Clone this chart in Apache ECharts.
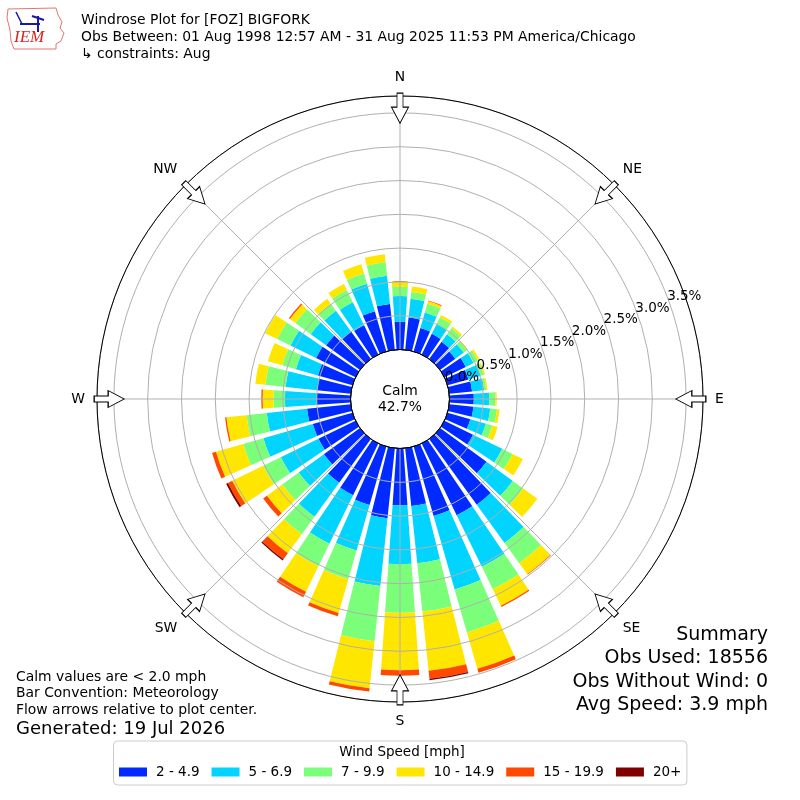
<!DOCTYPE html>
<html><head><meta charset="utf-8">
<script src="https://cdn.jsdelivr.net/npm/echarts@6/dist/echarts.min.js"></script>
<style>html,body{margin:0;padding:0;background:#fff}#c{width:800px;height:800px}</style>
</head><body><div id="c"></div>
<script>
// ---------------- data ----------------
const DIRECTIONS = [0,10,20,30,40,50,60,70,80,90,100,110,120,130,140,150,160,170,180,190,200,210,220,230,240,250,260,270,280,290,300,310,320,330,340,350];
const SPEED_BINS = ['2 - 4.9','5 - 6.9','7 - 9.9','10 - 14.9','15 - 19.9','20+'];
// percent of observations per direction (stacked)
const PCT_2_5   = [0.41,0.48,0.36,0.34,0.315,0.28,0.35,0.32,0.34,0.36, 0.36,0.35,0.47,0.85,1.20,1.18,1.07,0.86,0.84,1.04, 0.90,0.85,0.80,0.66,0.61,0.61,0.65,0.50,0.50,0.53, 0.65,0.62,0.50,0.48,0.62,0.68];
const PCT_5_7   = [0.38,0.28,0.24,0.16,0.135,0.155,0.13,0.19,0.18,0.23, 0.25,0.24,0.48,0.48,0.70,0.85,1.13,0.85,0.87,1.01, 0.70,0.80,0.62,0.46,0.62,0.76,0.60,0.47,0.47,0.34, 0.42,0.28,0.38,0.38,0.42,0.42];
const PCT_7_10  = [0.14,0.10,0.135,0.11,0.11,0.055,0.07,0.05,0.03,0.09, 0.10,0.10,0.17,0.19,0.37,0.37,0.66,0.72,0.72,0.82, 0.44,0.37,0.32,0.30,0.29,0.31,0.30,0.17,0.30,0.21, 0.22,0.28,0.13,0.20,0.16,0.20];
const PCT_10_15 = [0.08,0.08,0.04,0.04,0.03,0.02,0.03,0.02,0.02,0.02, 0.04,0.08,0.17,0.26,0.20,0.27,0.56,0.88,0.85,0.70, 0.52,0.42,0.35,0.28,0.51,0.42,0.30,0.16,0.15,0.22, 0.20,0.10,0.09,0.10,0.14,0.12];
const PCT_15_20 = [0,0,0.01,0,0,0,0,0,0,0, 0,0,0,0,0.01,0.02,0.06,0.12,0.08,0.05, 0.05,0.09,0.11,0.07,0.07,0.06,0.02,0.02,0,0, 0,0.02,0,0,0,0];
const PCT_20P   = [0,0,0,0,0,0,0,0,0,0, 0,0,0,0,0,0,0,0.02,0,0, 0,0,0.02,0,0.03,0,0,0,0,0, 0,0,0,0,0,0];
const COMPASS_LABELS = ['N','NE','E','SE','S','SW','W','NW'];
const COMPASS_ANGLES = [0,45,90,135,180,225,270,315];
const CALM_PCT = 42.7;
const TITLE_LINES = ['Windrose Plot for [FOZ] BIGFORK','Obs Between: 01 Aug 1998 12:57 AM - 31 Aug 2025 11:53 PM America/Chicago','\u21b3 constraints: Aug'];
const NOTE_LINES = ['Calm values are < 2.0 mph','Bar Convention: Meteorology','Flow arrows relative to plot center.'];
const GENERATED = 'Generated: 19 Jul 2026';
const SUMMARY_LINES = ['Summary','Obs Used: 18556','Obs Without Wind: 0','Avg Speed: 3.9 mph'];

// ---------------- styles / layout ----------------
const COLORS = ['#002aff','#00d4ff','#7bff7b','#ffe600','#ff4800','#800000'];
const CENTER = [400, 399];
const R_IN = 49.5, R_OUT = 303;
const R_MAX = 3.75;
const ARROW_R = 3.57;
const GRID = '#b0b0b0';
const FONT = 'DejaVu Sans';
const ARROW_PATH = 'path://M5.5,0 L11.5,0 L11.5,14 L17,14 L8.5,30 L0,14 L5.5,14 Z';

const chart = echarts.init(document.getElementById('c'), null, {renderer: 'canvas'});
const seriesData = [PCT_2_5, PCT_5_7, PCT_7_10, PCT_10_15, PCT_15_20, PCT_20P];

function txt(text, x, y, size, align, extra) {
  return Object.assign({
    type: 'text', z: 20,
    style: {text: text, x: x, y: y, fill: '#000', font: size + 'px "' + FONT + '"',
      textAlign: align, align: align, textVerticalAlign: 'middle', verticalAlign: 'middle'}
  }, extra || {});
}

const graphics = [];
TITLE_LINES.forEach((t, i) => graphics.push(txt(t, 81, 20 + i * 17, 13.9, 'left')));
graphics.push(txt('Calm', 400, 391, 13.9, 'center'));
graphics.push(txt(CALM_PCT.toFixed(1) + '%', 400, 407, 13.9, 'center'));
NOTE_LINES.forEach((t, i) => graphics.push(txt(t, 16, 677 + i * 16.7, 13.9, 'left')));
graphics.push(txt(GENERATED, 16, 729, 18, 'left'));
SUMMARY_LINES.forEach((t, i) => graphics.push(txt(t, 768, 635 + i * 23.5, 19, 'right')));
graphics.push(txt('Wind Speed [mph]', 402, 752, 13.5, 'center', {z: 30}));
// logo
graphics.push({type: 'polygon', z: 20, shape: {points: [[8,9],[56,8],[58,15],[62,22],[60,28],[64,33],[61,41],[56,44],[56,49],[14,49],[11,41],[10,30],[7,18]]},
  style: {fill: 'none', stroke: '#e57373', lineWidth: 1}});
graphics.push({type: 'polyline', z: 20, shape: {points: [[20,24],[40,24]]}, style: {stroke: '#1a1aa0', lineWidth: 2}});
graphics.push({type: 'polyline', z: 20, shape: {points: [[38,16],[38,32]]}, style: {stroke: '#1a1aa0', lineWidth: 2}});
graphics.push({type: 'polyline', z: 20, shape: {points: [[16,12],[22,24]]}, style: {stroke: '#1a1aa0', lineWidth: 1.5}});
graphics.push({type: 'polyline', z: 20, shape: {points: [[32,16],[44,20]]}, style: {stroke: '#1a1aa0', lineWidth: 2}});
graphics.push({type: 'text', z: 20, style: {text: 'IEM', x: 14, y: 38, fill: '#d22', font: 'italic 17px "Liberation Serif"',
  textAlign: 'left', align: 'left', textVerticalAlign: 'middle', verticalAlign: 'middle'}});

function radiusLabelAxis(polarIndex, parity) {
  return {polarIndex: polarIndex, type: 'value', min: 0, max: R_MAX, interval: 0.5, z: 10,
    axisLine: {show: false}, axisTick: {show: false}, splitLine: {show: false},
    axisLabel: {show: true, margin: 5, align: 'left', verticalAlign: 'middle', fontSize: 13.5, color: '#000', fontFamily: FONT,
      hideOverlap: false, showMinLabel: true, showMaxLabel: false,
      formatter: v => (Math.round(v * 2) % 2 === parity && v <= 3.5) ? v.toFixed(1) + '%' : ''}};
}

const option = {
  animation: false,
  backgroundColor: '#fff',
  textStyle: {fontFamily: FONT},
  graphic: graphics,
  polar: [
    {center: CENTER, radius: [R_IN, R_OUT]},
    {center: CENTER, radius: [R_IN, R_OUT]},
    {center: CENTER, radius: [R_IN, R_OUT]},
    {center: CENTER, radius: [0, R_IN]},
    {center: CENTER, radius: [R_IN, R_OUT]}
  ],
  angleAxis: [
    {polarIndex: 0, type: 'category', data: DIRECTIONS.map(String), startAngle: 95, clockwise: true, boundaryGap: true,
      axisLine: {show: false}, axisTick: {show: false}, axisLabel: {show: false}, splitLine: {show: false}},
    {polarIndex: 1, type: 'value', min: 0, max: 360, interval: 45, startAngle: 90, clockwise: true, z: 5,
      axisLine: {show: true, lineStyle: {color: '#000', width: 1}}, axisTick: {show: false},
      axisLabel: {show: true, margin: 12, fontSize: 13.9, color: '#000', fontFamily: FONT,
        formatter: v => { const i = COMPASS_ANGLES.indexOf(v); return i >= 0 ? COMPASS_LABELS[i] : ''; }},
      splitLine: {show: true, lineStyle: {color: GRID, width: 1}}},
    {polarIndex: 2, type: 'value', min: 0, max: 360, startAngle: 20, clockwise: true, show: false},
    {polarIndex: 3, type: 'value', min: 0, max: 360, z: 6,
      axisLine: {show: true, lineStyle: {color: '#000', width: 1}}, axisTick: {show: false}, axisLabel: {show: false}, splitLine: {show: false}},
    {polarIndex: 4, type: 'value', min: 0, max: 360, startAngle: 20, clockwise: true, show: false}
  ],
  radiusAxis: [
    {polarIndex: 0, type: 'value', min: 0, max: R_MAX, show: false},
    {polarIndex: 1, type: 'value', min: 0, max: R_MAX, interval: 0.5, z: 5,
      axisLine: {show: false}, axisTick: {show: false}, axisLabel: {show: false},
      splitLine: {show: true, lineStyle: {color: GRID, width: 1}}},
    radiusLabelAxis(2, 0),
    {polarIndex: 3, type: 'value', show: false},
    radiusLabelAxis(4, 1)
  ],
  legend: {
    data: SPEED_BINS, left: 113.5, top: 741, orient: 'horizontal', icon: 'rect',
    itemWidth: 28, itemHeight: 9, itemGap: 12, padding: [24, 5.5, 6, 5.5],
    borderColor: '#cccccc', borderWidth: 1, borderRadius: 4, backgroundColor: '#fff',
    selectedMode: false,
    textStyle: {fontSize: 13.5, color: '#000', fontFamily: FONT, padding: [0, 0, 0, 4]}
  },
  series: SPEED_BINS.map((name, k) => ({
    name: name, type: 'bar', coordinateSystem: 'polar', polarIndex: 0, stack: 'ws',
    data: seriesData[k], barWidth: '80%', z: 2,
    itemStyle: {color: COLORS[k]}, emphasis: {disabled: true}
  })).concat([{
    type: 'scatter', coordinateSystem: 'polar', polarIndex: 1, z: 7, silent: true,
    symbol: ARROW_PATH, symbolSize: [17, 30],
    itemStyle: {color: '#fff', borderColor: '#000', borderWidth: 1, opacity: 1},
    data: COMPASS_ANGLES.map(a => ({value: [ARROW_R, a], symbolRotate: -a}))
  }])
};
chart.setOption(option);
</script>
</body></html>
